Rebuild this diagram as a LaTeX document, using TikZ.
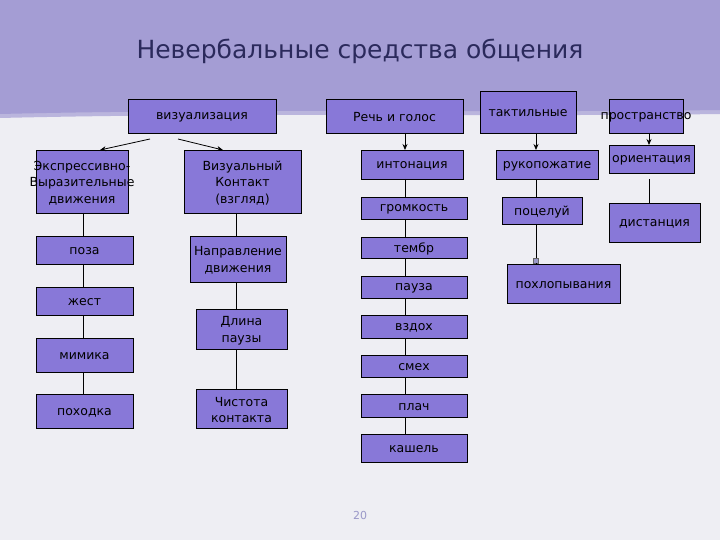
\documentclass[tikz,border=0pt]{standalone}
\usepackage{fontspec}
\setmainfont{DejaVu Sans}
\usetikzlibrary{arrows.meta}
\definecolor{bandc}{HTML}{A49DD4}
\definecolor{pagec}{HTML}{EEEEF3}
\definecolor{boxc}{HTML}{8878D8}
\definecolor{titlec}{HTML}{2B2A5C}
\definecolor{numc}{HTML}{9A98C8}
\tikzset{
  box/.style={draw=black,line width=0.9pt,fill=boxc,inner sep=0pt,outer sep=0pt},
  boxtext/.style={inner sep=0pt,align=center,font=\fontsize{12.5}{16.5}\selectfont,text=black},
  conn/.style={draw=black,line width=0.8pt},
  arr/.style={conn,-{Stealth[length=6pt,width=5pt]}}
}
\newcommand\bxx[6]{%
  \pgfmathsetmacro\bw{#4-#2}\pgfmathsetmacro\bh{#5-#3}%
  \pgfmathsetmacro\bcx{(#2+#4)/2}\pgfmathsetmacro\bcy{(#3+#5)/2}%
  \node[box,minimum width=\bw pt,minimum height=\bh pt] (#1) at (\bcx,\bcy) {};%
  \node[boxtext] (#1t) at ([yshift=-1.5pt]#1.center) {#6};}
\begin{document}
\begin{tikzpicture}[x=1pt,y=-1pt]
\useasboundingbox (0,0) rectangle (720,540);
\fill[pagec] (0,0) rectangle (720,540);
\fill[bandc!70!pagec] (0,0) -- (720,0) -- (720,114) .. controls (500,117) and (250,112) .. (0,118) -- cycle;
\fill[bandc] (0,0) -- (720,0) -- (720,110) .. controls (500,113) and (250,108) .. (0,114) -- cycle;
\node[font=\fontsize{25}{30}\selectfont,text=titlec] (title) at (360,51) {Невербальные средства общения};

\bxx{viz}{128}{99}{276}{133}{визуализация}
\bxx{rech}{326}{99}{463}{133}{Речь и голос}
\bxx{takt}{480}{91}{576}{133}{тактильные}
\bxx{prost}{609}{99}{683}{133}{\raisebox{-3pt}{пространство}}
\bxx{expr}{36}{150}{128}{213}{Экспрессивно-\\Выразительные\\движения}
\bxx{vizk}{184}{150}{301}{213}{Визуальный\\Контакт\\(взгляд)}
\bxx{poza}{36}{236}{133}{264}{поза}
\bxx{napr}{190}{236}{286}{282}{Направление\\движения}
\bxx{zhest}{36}{287}{133}{315}{жест}
\bxx{mimika}{36}{338}{133}{372}{мимика}
\bxx{pohodka}{36}{394}{133}{428}{походка}
\bxx{dlina}{196}{309}{287}{349}{Длина\\паузы}
\bxx{chist}{196}{389}{287}{428}{Чистота\\контакта}
\bxx{inton}{361}{150}{463}{179}{интонация}
\bxx{grom}{361}{197}{467}{219}{громкость}
\bxx{tembr}{361}{237}{467}{258}{тембр}
\bxx{pauza}{361}{276}{467}{298}{пауза}
\bxx{vzdoh}{361}{315}{467}{338}{вздох}
\bxx{smeh}{361}{355}{467}{377}{смех}
\bxx{plach}{361}{394}{467}{417}{плач}
\bxx{kashel}{361}{434}{467}{462}{кашель}
\bxx{ruko}{496}{150}{598}{179}{рукопожатие}
\bxx{poceluy}{502}{197}{582}{224}{поцелуй}
\bxx{pohlop}{507}{264}{620}{303}{похлопывания}
\bxx{orient}{609}{145}{694}{173}{ориентация}
\bxx{dist}{609}{203}{700}{242}{дистанция}

\node[font=\fontsize{11}{13}\selectfont,text=numc] (pnum) at (360,515) {20};

% column x positions
\coordinate (cA) at (83,0);
\coordinate (cB) at (236,0);
\coordinate (cC) at (405,0);
\coordinate (cD) at (536,0);
\coordinate (cE) at (649,0);

% arrows from визуализация
\coordinate (v1) at (150,139);
\coordinate (v2) at (178,139);
\coordinate (e1) at (100,150);
\coordinate (e2) at (223,150);
\draw[arr] (v1) -- (e1);
\draw[arr] (v2) -- (e2);

% left column
\draw[conn] (expr.south -| cA) -- (poza.north -| cA);
\draw[conn] (poza.south -| cA) -- (zhest.north -| cA);
\draw[conn] (zhest.south -| cA) -- (mimika.north -| cA);
\draw[conn] (mimika.south -| cA) -- (pohodka.north -| cA);

% second column
\draw[conn] (vizk.south -| cB) -- (napr.north -| cB);
\draw[conn] (napr.south -| cB) -- (dlina.north -| cB);
\draw[conn] (dlina.south -| cB) -- (chist.north -| cB);

% speech column
\draw[arr] (rech.south -| cC) -- (inton.north -| cC);
\draw[conn] (inton.south -| cC) -- (grom.north -| cC);
\draw[conn] (grom.south -| cC) -- (tembr.north -| cC);
\draw[conn] (tembr.south -| cC) -- (pauza.north -| cC);
\draw[conn] (pauza.south -| cC) -- (vzdoh.north -| cC);
\draw[conn] (vzdoh.south -| cC) -- (smeh.north -| cC);
\draw[conn] (smeh.south -| cC) -- (plach.north -| cC);
\draw[conn] (plach.south -| cC) -- (kashel.north -| cC);

% tactile column
\draw[arr] (takt.south -| cD) -- (ruko.north -| cD);
\draw[conn] (ruko.south -| cD) -- (poceluy.north -| cD);
\coordinate (sq) at (536,260.5);
\draw[conn] (poceluy.south -| cD) -- (sq);
\node[draw=black!60,line width=0.4pt,fill=numc,minimum size=5pt,inner sep=0pt] (sqm) at (sq) {};
\draw[conn] (sqm.south) -- (pohlop.north -| cD);

% space column
\draw[arr] (prost.south -| cE) -- (orient.north -| cE);
\coordinate (o1) at (649,179);
\draw[conn] (o1) -- (dist.north -| cE);
\end{tikzpicture}
\end{document}
